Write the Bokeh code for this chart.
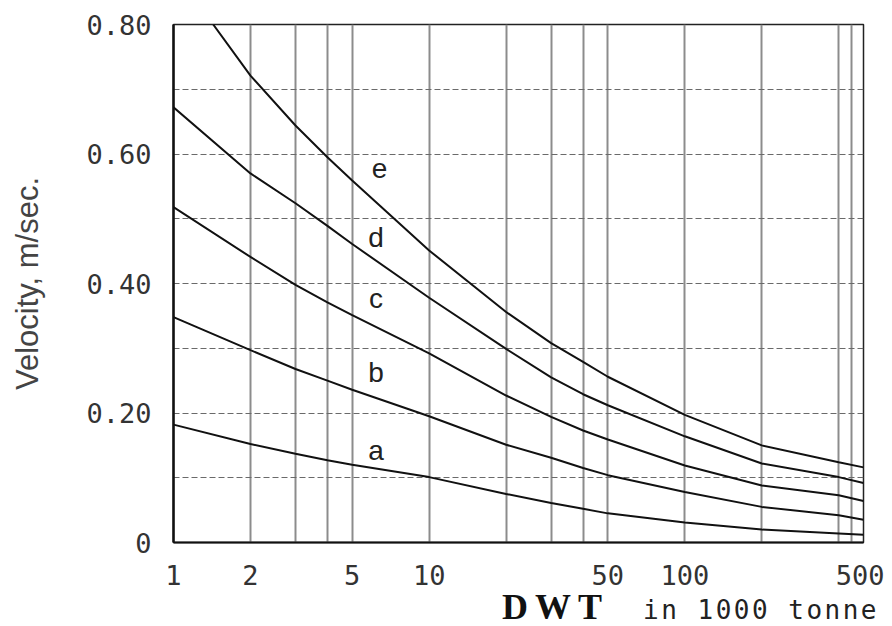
from bokeh.plotting import figure
from bokeh.models import FixedTicker, Range1d, Div
from bokeh.layouts import column
from bokeh.embed import file_html
from bokeh.resources import INLINE
from bokeh.core.properties import value

# ---- data ----
dwt = [1, 2, 3, 4, 5, 10, 20, 30, 40, 50, 100, 200, 400, 500]
vel_a = [0.182, 0.152, 0.137, 0.127, 0.120, 0.101, 0.075, 0.061, 0.052, 0.045, 0.031, 0.020, 0.014, 0.012]
vel_b = [0.348, 0.297, 0.268, 0.250, 0.236, 0.195, 0.151, 0.131, 0.115, 0.104, 0.078, 0.055, 0.042, 0.035]
vel_c = [0.518, 0.441, 0.398, 0.371, 0.351, 0.292, 0.227, 0.194, 0.173, 0.159, 0.119, 0.088, 0.073, 0.064]
vel_d = [0.672, 0.570, 0.524, 0.489, 0.461, 0.378, 0.299, 0.255, 0.229, 0.212, 0.164, 0.122, 0.101, 0.092]
dwt_e = [1.43, 2, 3, 4, 5, 10, 20, 30, 40, 50, 100, 200, 400, 500]
vel_e = [0.800, 0.721, 0.644, 0.595, 0.559, 0.451, 0.356, 0.308, 0.279, 0.256, 0.197, 0.150, 0.124, 0.116]

curve_names = ["a", "b", "c", "d", "e"]
curve_label_x = [6.2, 6.2, 6.2, 6.2, 6.4]
curve_label_y = [0.142, 0.263, 0.377, 0.471, 0.578]

x_tick_vals = [1, 2, 5, 10, 50, 100, 500]
x_tick_labels = ["1", "2", "5", "10", "50", "100", "500"]
x_grid_vals = [1, 2, 3, 4, 5, 10, 20, 30, 40, 50, 100, 200, 400, 450, 500]
y_tick_vals = [0, 0.2, 0.4, 0.6, 0.8]
y_tick_labels = ["0", "0.20", "0.40", "0.60", "0.80"]
y_grid_vals = [0.1, 0.2, 0.3, 0.4, 0.5, 0.6, 0.7]

x_title_main = "DWT"
x_title_unit = "in 1000 tonne"
y_title = "Velocity, m/sec."

MONO = "DejaVu Sans Mono"

p = figure(x_axis_type="log", x_range=Range1d(1, 500), y_range=Range1d(0, 0.8),
           frame_width=690, frame_height=518,
           min_border_left=173, min_border_right=21, min_border_top=24, min_border_bottom=50,
           output_backend="svg", toolbar_location=None)

p.outline_line_color = "#222222"
p.outline_line_width = 1.5
p.background_fill_color = "white"
p.border_fill_color = "white"

# grids
p.xgrid.ticker = FixedTicker(ticks=x_grid_vals)
p.xgrid.grid_line_color = "#8c8c8c"
p.xgrid.grid_line_width = 2
p.ygrid.ticker = FixedTicker(ticks=y_grid_vals)
p.ygrid.grid_line_color = "#6a6a6a"
p.ygrid.grid_line_width = 1
p.ygrid.grid_line_dash = "6 3"

# x axis
p.xaxis.ticker = FixedTicker(ticks=x_tick_vals)
p.xaxis.major_label_overrides = {v: s for v, s in zip(x_tick_vals, x_tick_labels)}
p.xaxis.minor_tick_line_color = None
p.xaxis.major_tick_line_color = None
p.xaxis.axis_line_color = "#111111"
p.xaxis.axis_line_width = 2
p.xaxis.major_label_text_font = MONO
p.xaxis.major_label_text_font_size = "27px"
p.xaxis.major_label_text_color = "#333333"
p.xaxis.major_label_standoff = 16

# y axis
p.yaxis.ticker = FixedTicker(ticks=y_tick_vals)
p.yaxis.major_label_overrides = {v: s for v, s in zip(y_tick_vals, y_tick_labels)}
p.yaxis.minor_tick_line_color = None
p.yaxis.major_tick_line_color = None
p.yaxis.axis_line_color = "#111111"
p.yaxis.axis_line_width = 2.5
p.yaxis.major_label_text_font = MONO
p.yaxis.major_label_text_font_size = "27px"
p.yaxis.major_label_text_color = "#333333"
p.yaxis.major_label_standoff = 16
p.yaxis.axis_label = y_title
p.yaxis.axis_label_text_font = "Liberation Sans"
p.yaxis.axis_label_text_font_style = "normal"
p.yaxis.axis_label_text_font_size = "31px"
p.yaxis.axis_label_text_color = "#444444"
p.yaxis.axis_label_standoff = 38

# curves
for xs, ys in [(dwt, vel_a), (dwt, vel_b), (dwt, vel_c), (dwt, vel_d), (dwt_e, vel_e)]:
    p.line(xs, ys, line_color="#111111", line_width=2)

p.text(x=curve_label_x, y=curve_label_y, text=curve_names,
       text_font=value("Liberation Sans"), text_font_size="28px",
       text_color="#222222", text_align="center", text_baseline="middle")

# x axis title (two fonts) below the figure
title_html = (
    '<div style="padding-left:502px;white-space:nowrap;height:34px;line-height:30px;'
    'font-family:\'Liberation Serif\';font-size:36px;">'
    '<span style="font-family:\'Liberation Serif\';font-weight:bold;font-size:36px;'
    'letter-spacing:7px;color:#111111;">' + x_title_main + '</span>'
    '<span style="font-family:\'DejaVu Sans Mono\';font-size:26px;letter-spacing:2.5px;'
    'color:#222222;margin-left:34px;">' + x_title_unit + '</span></div>'
)
div = Div(text=title_html, width=884, height=34, margin=0)

layout = column(p, div, spacing=0)
open("out.html", "w").write(file_html(layout, INLINE))
